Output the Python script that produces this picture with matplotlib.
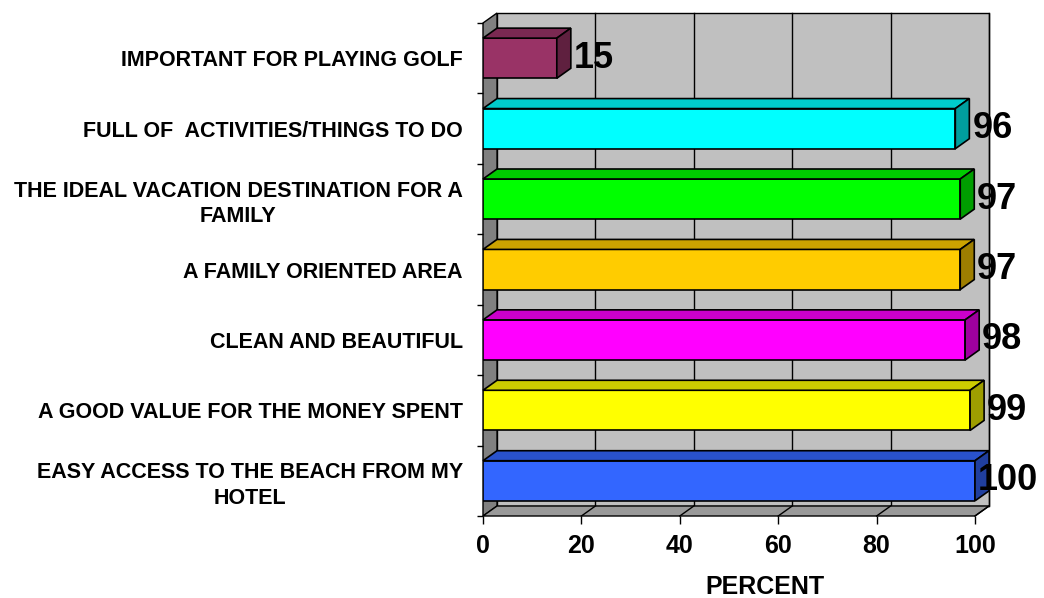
import matplotlib
matplotlib.use("Agg")
import matplotlib.pyplot as plt
from matplotlib.patches import Polygon
from matplotlib.colors import to_rgb

plt.rcParams["font.family"] = ["Liberation Sans", "DejaVu Sans"]

# data, listed bottom to top
categories = [
    "EASY ACCESS TO THE BEACH FROM MY\nHOTEL",
    "A GOOD VALUE FOR THE MONEY SPENT",
    "CLEAN AND BEAUTIFUL",
    "A FAMILY ORIENTED AREA",
    "THE IDEAL VACATION DESTINATION FOR A\nFAMILY",
    "FULL OF  ACTIVITIES/THINGS TO DO",
    "IMPORTANT FOR PLAYING GOLF",
]
values = [100, 99, 98, 97, 97, 96, 15]
colors = ["#3366FF", "#FFFF00", "#FF00FF", "#FFCC00", "#00FF00", "#00FFFF", "#993366"]
xticks = [0, 20, 40, 60, 80, 100]

# fake 3d depth, in data units
DX = 2.85
DY = 0.142
BAR_H = 0.57


def shade(c, f):
    r, g, b = to_rgb(c)
    return (r * f, g * f, b * f)


fig = plt.figure(figsize=(10.44, 5.98), dpi=100)
fig.patch.set_facecolor("white")
ax = fig.add_axes([483 / 1044, 82 / 598, 492 / 1044, 493 / 598])
ax.set_xlim(0, 100)
ax.set_ylim(-0.5, len(categories) - 0.5)
ax.patch.set_visible(False)
for s in ax.spines.values():
    s.set_visible(False)

y0, y1 = -0.5, len(categories) - 0.5

# back wall
ax.add_patch(Polygon([(DX, y0 + DY), (100 + DX, y0 + DY), (100 + DX, y1 + DY), (DX, y1 + DY)],
                     closed=True, facecolor="#C0C0C0", edgecolor="black", lw=1.0,
                     zorder=0, clip_on=False))
for t in xticks[1:]:
    ax.plot([t + DX, t + DX], [y0 + DY, y1 + DY], color="black", lw=1.0, zorder=0.5, clip_on=False)

# left wall
ax.add_patch(Polygon([(0, y0), (0, y1), (DX, y1 + DY), (DX, y0 + DY)],
                     closed=True, facecolor="#808080", edgecolor="black", lw=1.0,
                     zorder=1, clip_on=False))
# floor
ax.add_patch(Polygon([(0, y0), (100, y0), (100 + DX, y0 + DY), (DX, y0 + DY)],
                     closed=True, facecolor="#999999", edgecolor="black", lw=1.0,
                     zorder=1, clip_on=False))
for t in xticks[1:]:
    ax.plot([t, t + DX], [y0, y0 + DY], color="black", lw=1.0, zorder=1.5, clip_on=False)

# bars
ypos = list(range(len(categories)))
ax.barh(ypos, values, height=BAR_H, color=colors, edgecolor="black", lw=1.2, zorder=4)
for y, v, c in zip(ypos, values, colors):
    top, bot = y + BAR_H / 2, y - BAR_H / 2
    ax.add_patch(Polygon([(0, top), (v, top), (v + DX, top + DY), (DX, top + DY)],
                         closed=True, facecolor=shade(c, 0.8), edgecolor="black",
                         lw=1.2, zorder=4, clip_on=False))
    ax.add_patch(Polygon([(v, bot), (v, top), (v + DX, top + DY), (v + DX, bot + DY)],
                         closed=True, facecolor=shade(c, 0.62), edgecolor="black",
                         lw=1.2, zorder=4, clip_on=False))

# value labels, kept inside the figure
renderer = fig.canvas.get_renderer()
right_limit = fig.bbox.width * 0.994
for y, v in zip(ypos, values):
    t = ax.text(v + DX + 0.6, y, str(v), ha="left", va="center", fontsize=26,
                fontweight="bold", color="black", zorder=6, clip_on=False)
    bb = t.get_window_extent(renderer)
    if bb.x1 > right_limit:
        shift = (bb.x1 - right_limit) / (ax.bbox.width / 100)
        t.set_x(v + DX + 0.6 - shift)

# axes ticks
ax.set_yticks(ypos)
ax.set_yticklabels(categories, fontsize=15.5, fontweight="bold", linespacing=1.3,
                   multialignment="center")
ax.set_yticks([y - 0.5 for y in ypos] + [y1], minor=True)
ax.tick_params(axis="y", which="major", length=0, pad=14.5)
ax.tick_params(axis="y", which="minor", length=4.5, width=1.0, direction="out", color="black")

ax.set_xticks(xticks)
ax.set_xticklabels([str(t) for t in xticks], fontsize=18, fontweight="bold")
ax.tick_params(axis="x", length=6, width=1.0, direction="out", color="black", pad=7)

fig.text(765 / 1044, 4 / 598, "PERCENT", ha="center", va="baseline",
         fontsize=18, fontweight="bold")

fig.savefig("out.png", dpi=100, facecolor="white")
